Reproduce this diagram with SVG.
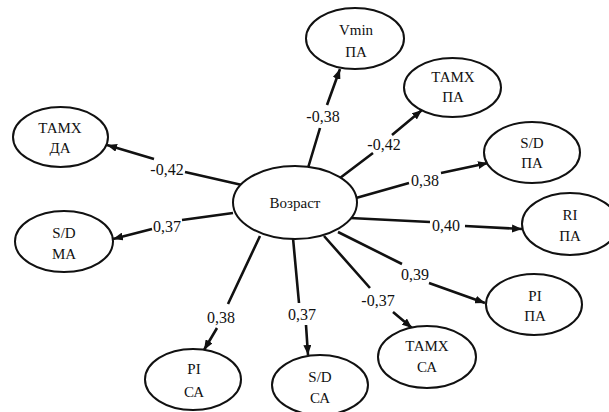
<svg xmlns="http://www.w3.org/2000/svg" width="609" height="412" viewBox="0 0 609 412">
<defs>
<style>
.node ellipse{fill:#fff;stroke:#111;stroke-width:2}
.node text{font-size:15px;fill:#111;text-anchor:middle}
.conn path{fill:none;stroke:#111;stroke-width:2.6;marker-end:url(#arr)}
.lbl{font-size:16px;fill:#111;text-anchor:middle}
</style>
<marker id="arr" viewBox="0 0 10 8" markerUnits="userSpaceOnUse" markerWidth="10" markerHeight="8" refX="10" refY="4" orient="auto">
<path d="M0,0 L10,4 L0,8 z" fill="#111"/>
</marker>
</defs>
<rect width="609" height="412" fill="#fff"/>
<g id="connectors" class="conn">
<path d="M308,168 L320,128 M327,105 L340,69"/>
<path d="M340,178 L373,153 M392,135 L422,110"/>
<path d="M356,198 L409,183 M441,173 L488,163"/>
<path d="M242,185 L185,172 M154,159 L107,145"/>
<path d="M233,213 L182,220 M152,229 L113,239"/>
<path d="M260,236 L228,304 M217,328 L204,350"/>
<path d="M293,238 L299,303 M306,325 L308,355"/>
<path d="M324,236 L370,288 M393,312 L412,328"/>
<path d="M338,232 L402,264 M429,283 L485,303"/>
<path d="M350,218 L430,222 M465,226 L522,229"/>
</g>
<g font-family="'Liberation Serif', 'DejaVu Serif', 'Times New Roman', serif">
<g id="labels">
<text class="lbl" x="323" y="122">-0,38</text>
<text class="lbl" x="384" y="150">-0,42</text>
<text class="lbl" x="425" y="186">0,38</text>
<text class="lbl" x="167" y="175">-0,42</text>
<text class="lbl" x="167" y="232">0,37</text>
<text class="lbl" x="221" y="323">0,38</text>
<text class="lbl" x="302" y="320">0,37</text>
<text class="lbl" x="378" y="306">-0,37</text>
<text class="lbl" x="415" y="280">0,39</text>
<text class="lbl" x="446" y="231">0,40</text>
</g>
<g id="age" class="node"><ellipse cx="295" cy="202.5" rx="62" ry="36.5"/><text x="295" y="208">Возраст</text></g>
<g id="vmin_pa" class="node"><ellipse cx="355" cy="38.5" rx="49" ry="30.5"/><text x="356" y="35">Vmin</text><text x="356" y="57">ПА</text></g>
<g id="tamx_pa" class="node"><ellipse cx="452.5" cy="87.5" rx="48.5" ry="29.5"/><text x="453" y="82">ТАМХ</text><text x="453" y="102">ПА</text></g>
<g id="sd_pa" class="node"><ellipse cx="532" cy="152.5" rx="48" ry="30.5"/><text x="532" y="148">S/D</text><text x="532" y="168">ПА</text></g>
<g id="tamx_da" class="node"><ellipse cx="60.5" cy="137" rx="47.5" ry="30"/><text x="60" y="133">ТАМХ</text><text x="60" y="153">ДА</text></g>
<g id="sd_ma" class="node"><ellipse cx="64" cy="241.5" rx="49" ry="30.5"/><text x="64" y="238">S/D</text><text x="64" y="259">МА</text></g>
<g id="pi_ca" class="node"><ellipse cx="193" cy="379.5" rx="48" ry="30.5"/><text x="194" y="374">PI</text><text x="194" y="397">СА</text></g>
<g id="sd_ca" class="node"><ellipse cx="320" cy="385" rx="48" ry="30"/><text x="320" y="382">S/D</text><text x="320" y="403">СА</text></g>
<g id="tamx_ca" class="node"><ellipse cx="427" cy="357" rx="49" ry="31"/><text x="427" y="351">ТАМХ</text><text x="427" y="372">СА</text></g>
<g id="pi_pa" class="node"><ellipse cx="534" cy="304.5" rx="48" ry="30.5"/><text x="535" y="301">PI</text><text x="535" y="321">ПА</text></g>
<g id="ri_pa" class="node"><ellipse cx="570" cy="224" rx="48" ry="31"/><text x="570" y="220">RI</text><text x="570" y="241">ПА</text></g>
</g>
</svg>
